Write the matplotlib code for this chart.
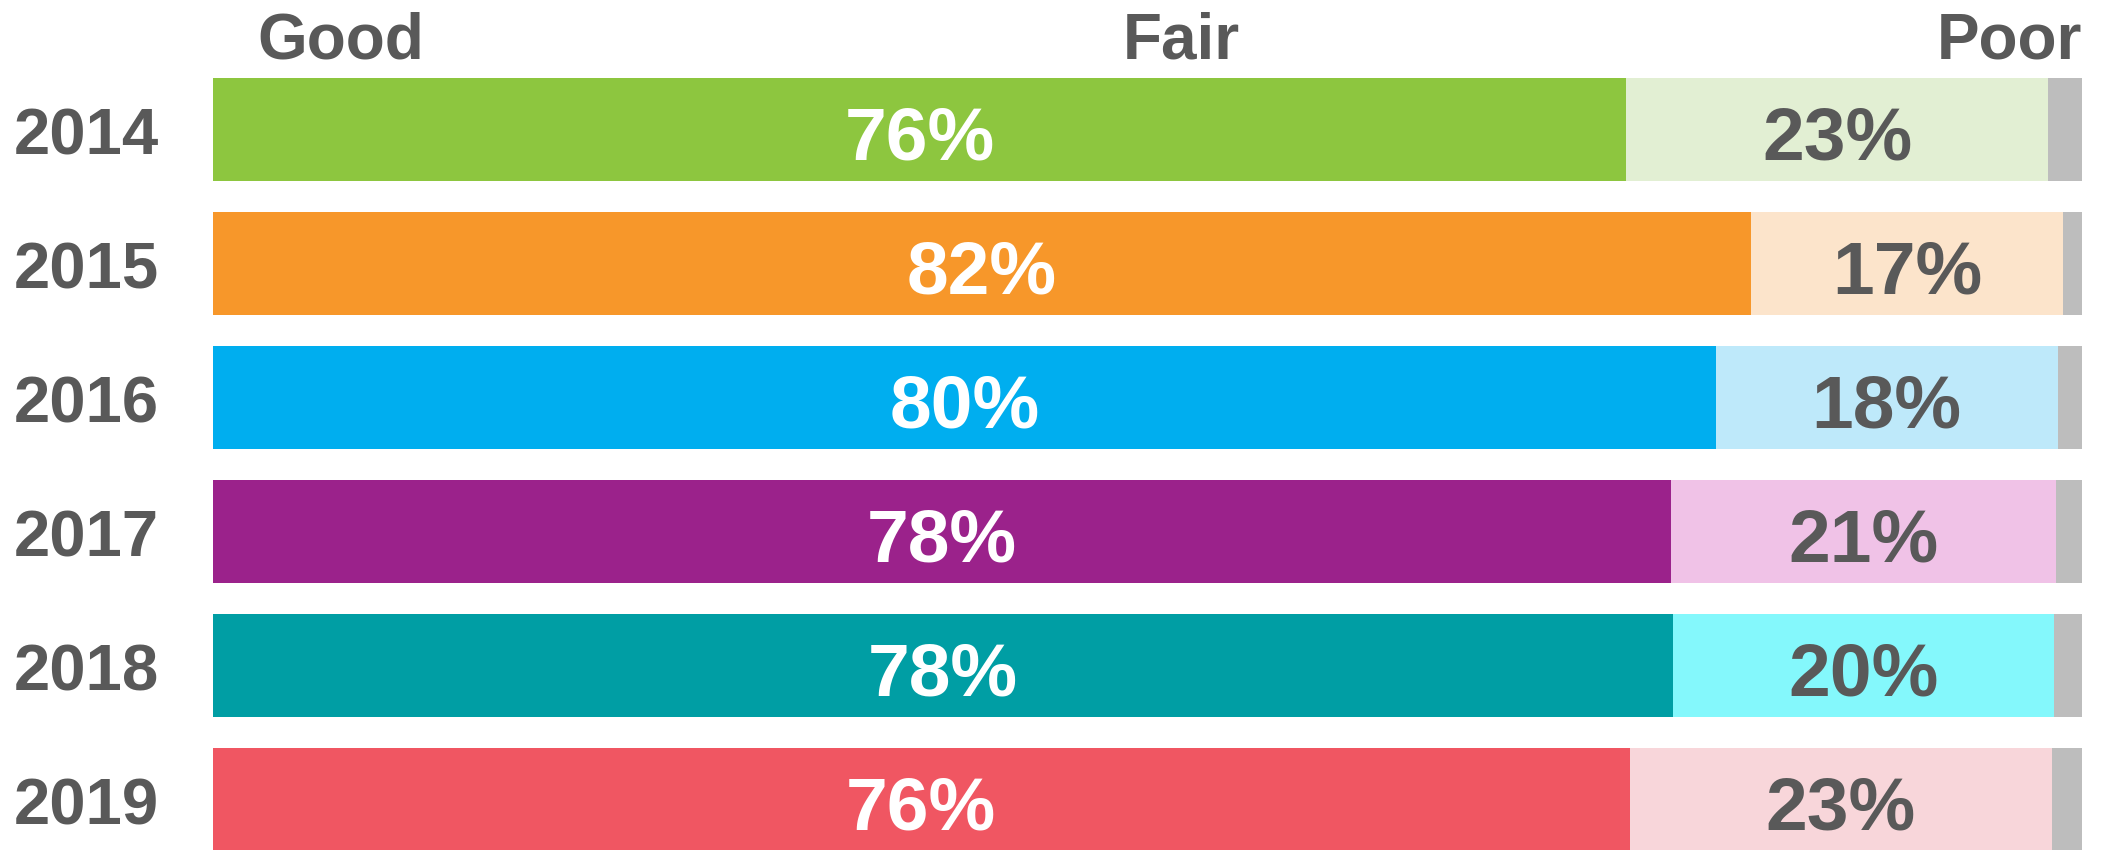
import numpy as np
import matplotlib.pyplot as plt

plt.rcParams['font.family'] = ['Liberation Sans', 'DejaVu Sans']

years = ['2014', '2015', '2016', '2017', '2018', '2019']
good = [75.6, 82.3, 80.4, 78.0, 78.1, 75.8]
fair = [22.6, 16.7, 18.3, 20.6, 20.4, 22.6]
poor = [1.8, 1.0, 1.3, 1.4, 1.5, 1.6]
headers = ['Good', 'Fair', 'Poor']

dark = ['#8DC63F', '#F7972A', '#00AEEF', '#9B228B', '#009EA4', '#F05662']
light = ['#E2EFD3', '#FCE4CB', '#BEE9FA', '#F0C2E7', '#84F8FC', '#F8D6DA']
grey = '#BDBDBD'
txt = '#595959'

fig = plt.figure(figsize=(21.04, 8.5), dpi=100)
ax = fig.add_axes([0.1012, 0.0, 0.8883, 1.0])

y = np.arange(len(years))
h = 0.77
good = np.array(good); fair = np.array(fair); poor = np.array(poor)
ax.barh(y, good, height=h, color=dark)
ax.barh(y, fair, left=good, height=h, color=light)
ax.barh(y, poor, left=good + fair, height=h, color=grey)

for i in range(len(years)):
    ax.text(good[i] / 2, y[i] + 0.225, f'{good[i]:.0f}%', ha='center', va='baseline',
            fontsize=54, fontweight='bold', color='white')
    ax.text(good[i] + fair[i] / 2, y[i] + 0.225, f'{fair[i]:.0f}%', ha='center', va='baseline',
            fontsize=54, fontweight='bold', color=txt)
    # year label left of the bar
    ax.text(-2.9, y[i] + 0.19, years[i], ha='right', va='baseline',
            fontsize=47, fontweight='bold', color=txt)

# column headers
hy = -0.526
ax.text(2.4, hy, headers[0], ha='left', va='baseline', fontsize=46, fontweight='bold', color=txt)
ax.text(51.8, hy, headers[1], ha='center', va='baseline', fontsize=46, fontweight='bold', color=txt)
ax.text(100, hy, headers[2], ha='right', va='baseline', fontsize=46, fontweight='bold', color=txt)

ax.set_xlim(0, 100)
ax.set_ylim(5.377, -0.966)
ax.set_xticks([])
ax.set_yticks([])
for s in ax.spines.values():
    s.set_visible(False)

fig.savefig('out.png', dpi=100)
